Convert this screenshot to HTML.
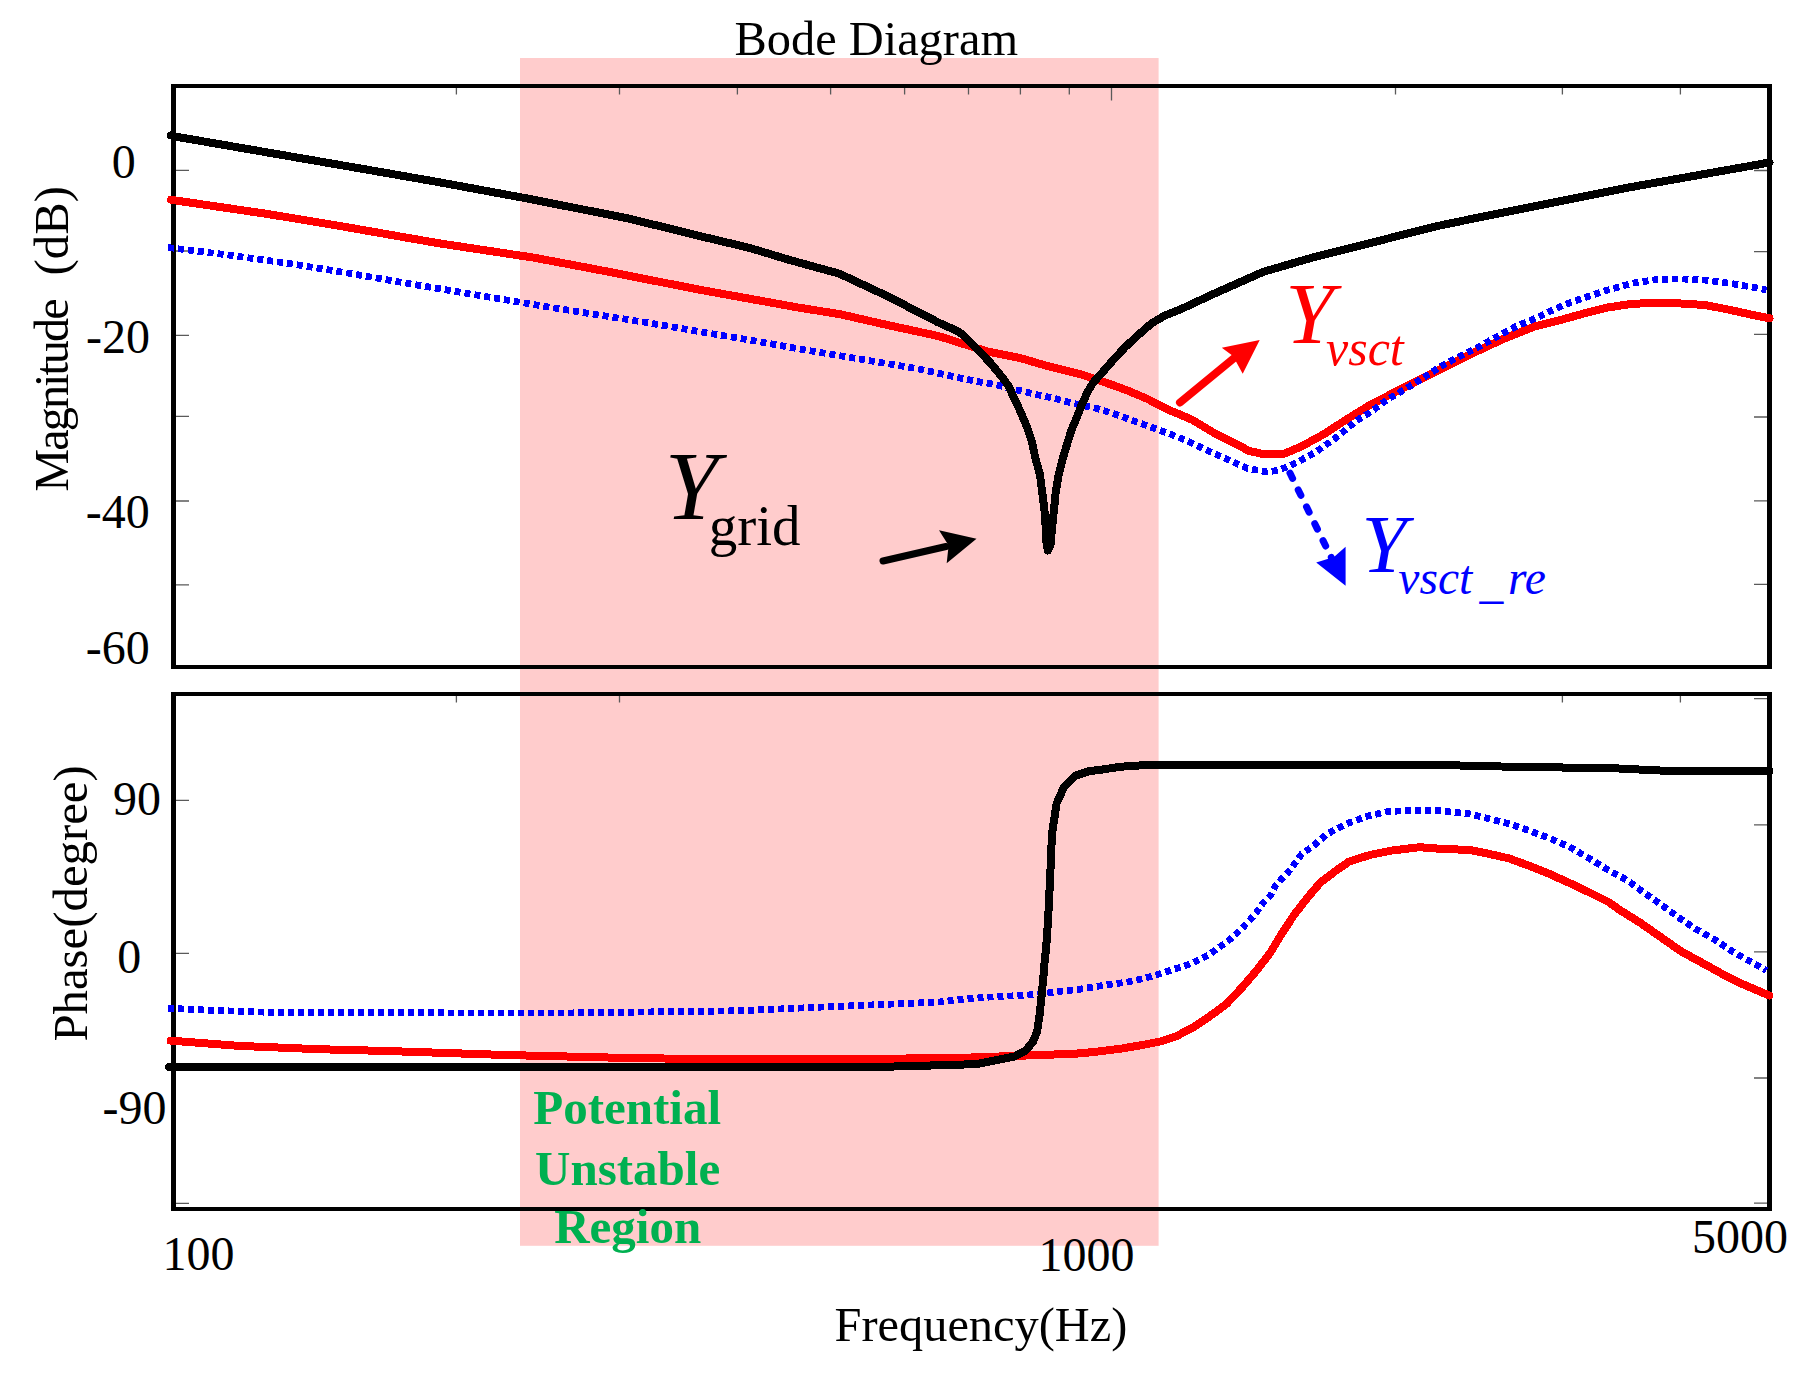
<!DOCTYPE html>
<html><head><meta charset="utf-8"><title>Bode Diagram</title>
<style>
html,body{margin:0;padding:0;background:#fff;width:1817px;height:1378px;overflow:hidden}
svg{display:block}
text{font-family:'Liberation Serif','Times New Roman',serif}
</style></head>
<body>
<svg width="1817" height="1378" viewBox="0 0 1817 1378">
<rect x="0" y="0" width="1817" height="1378" fill="#fff"/>
<rect x="520" y="58" width="638.6" height="1187.8" fill="#ffcccc"/>
<g fill="#000" shape-rendering="crispEdges">
<rect x="171" y="84" width="1601" height="4"/>
<rect x="171" y="665" width="1601" height="4"/>
<rect x="171" y="84" width="5" height="585"/>
<rect x="1767" y="84" width="5" height="585"/>
<rect x="171" y="692" width="1601" height="4"/>
<rect x="171" y="1206.5" width="1601" height="4"/>
<rect x="171" y="692" width="5" height="518.5"/>
<rect x="1767" y="692" width="5" height="518.5"/>
</g>
<path d="M456.4 88V94.5 M619.5 88V94.5 M737.4 88V94.5 M830.6 88V94.5 M904.6 88V94.5 M968.5 88V94.5 M1020.4 88V94.5 M1069.3 88V94.5 M1395.5 88V94.5 M1562.4 88V94.5 M1680.4 88V94.5 M1111.5 88V100.5 M456.4 696V702.5 M619.5 696V702.5 M1562.4 696V702.5 M1680.4 696V702.5 M176 170.4H189 M176 251H189 M176 335.3H189 M176 416.4H189 M176 501H189 M176 584.8H189 M1754 170.5H1767 M1754 251.7H1767 M1754 334.3H1767 M1754 417H1767 M1754 500.9H1767 M1754 584.3H1767 M176 800.3H189 M176 953.3H189 M176 1203.3H189 M1754 698.7H1767 M1754 824.8H1767 M1754 951.8H1767 M1754 1078H1767 M1754 1203.2H1767" stroke="#5a5a5a" stroke-width="1.3" fill="none"/>
<g fill="none" stroke-linejoin="round" shape-rendering="crispEdges">
<polyline points="171,199.8 269,214.2 340,226 439,243.3 533,257.5 600,270.1 699,289.6 798,307.5 839.5,314.1 889.1,325.4 938.6,336.1 986.1,351.1 1021,358.3 1047.1,365.9 1080,374 1112.3,384.9 1129.7,391.4 1147.1,398.8 1170,410.4 1192,419.7 1214,432.9 1236,443.9 1249.3,451.1 1261.4,453.6 1284.5,453.6 1302.1,446.1 1324.1,434 1346.1,419.7 1370,405 1403,388 1436,371.5 1469.1,354.9 1502.1,339.5 1535.1,326.3 1560,320.1 1584.2,313.4 1608.4,307.4 1632.6,303.7 1656.9,303.1 1681.1,303.5 1705.3,305 1729.5,309.8 1753.7,315.2 1769.5,318.3" stroke="#ff0000" stroke-width="8" stroke-linecap="round"/>
<polyline points="168,247.5 228,255 286,263 344,272.4 420,285.5 550,307.3 646.3,322.5 720,335.1 759.6,341.7 799.2,349 838.9,355.6 878.5,362.2 918.1,368.8 961.7,378.4 981.8,382.3 994.8,384.4 1014,389.2 1034,394 1055.8,398.8 1075.8,404 1096.6,408.4 1117.5,415 1170,434 1186.5,440.6 1206.3,450 1225,458.2 1247,468.2 1266.9,472 1277.9,470.4 1286.7,467 1297.7,462.1 1316.4,451.6 1335.1,438.4 1357.1,420.3 1370,412.4 1386.5,400.1 1405.2,389.1 1422.8,378.1 1441.5,366 1460.3,356 1480.1,346.1 1496.6,336.8 1516.4,326.3 1537.3,317.5 1563.6,305 1584.2,297.7 1608.4,289.8 1632.6,283.2 1656.9,279.5 1681.1,278.9 1705.3,280.1 1729.5,283.2 1753.7,287.4 1766.5,290" stroke="#0000ff" stroke-width="6.8" stroke-dasharray="6 4" stroke-linejoin="miter"/>
<polyline points="171,135.5 176.6,136.8 269,152.7 368,169.8 439,182.2 530,199 629,218.6 700,236.1 749.5,247.9 790,260.1 839.5,273.7 889.1,297 938.6,322.6 957.3,331 963.5,335.2 977.4,349.2 990.5,363.1 1003.5,378.8 1008.8,386.6 1014,397.9 1021,412.7 1027.1,427.5 1032.3,443.2 1035.2,457.4 1040,474.8 1042.2,492.2 1044.4,509.6 1045.7,527 1046.6,544.5 1048,550.5 1050.5,544.5 1052.2,527 1054,509.6 1055.7,492.2 1058.7,474.8 1063.1,457.4 1068.3,440 1071.5,430 1075.7,420 1081.8,404.5 1087.9,391.4 1093.1,382.7 1100.9,374 1112.3,361 1125.3,347 1138.4,334.8 1151.4,323.5 1164.5,315.7 1180,309.6 1214,293.7 1263.6,271.7 1313.1,257.4 1370,243.1 1434.7,226.6 1480,217.2 1628.6,187.5 1769.5,162.5" stroke="#000" stroke-width="8" stroke-linecap="round"/>
<polyline points="170.6,1040.6 239,1045.9 318.5,1049.2 390,1051.1 509,1055.1 628,1058 700,1059 880,1058.8 960,1057.9 996.3,1056.6 1059.8,1054.3 1080,1053.4 1100,1051.3 1122,1048.5 1144,1044.7 1160.5,1041.4 1177,1035.9 1193.6,1027 1210.1,1016 1226.6,1003.9 1243.1,986.3 1256.3,970.9 1270.6,952.2 1281.9,933.4 1294,915 1307.3,897.9 1320.5,882.5 1334.8,871.5 1349.2,861.5 1370.1,854.9 1392.1,850.5 1419.6,847.2 1441.6,848.9 1450,849.2 1469.8,850 1489.6,854 1509.4,858.5 1529.3,865.9 1549.1,873.8 1568.9,882.7 1588.7,892.1 1608.5,902 1620,910.1 1640.3,922.8 1660.6,937 1681,951.3 1701.3,962.4 1721.6,973.6 1741.9,983.8 1769.3,995.5" stroke="#ff0000" stroke-width="8" stroke-linecap="round"/>
<polyline points="168,1008.2 193,1009.5 226,1010.8 265.7,1012.2 318.5,1012.8 565,1013 738,1010.8 826,1006.9 940,1002 960,999.4 987.2,997.2 1014.4,995.8 1037.1,994.4 1059.8,991.3 1077.9,989.5 1107.7,984.7 1128.6,981.9 1149.5,977 1170.4,970.4 1189.2,964.3 1198.8,959.9 1208.9,955 1218.8,947.4 1226.3,942.5 1235.1,934.9 1242.3,928 1249.6,920.4 1256,912.9 1262.9,903 1270.5,895.4 1275.4,885.8 1289.7,870.4 1301.8,853.8 1311.7,847.2 1327.1,834 1347,823.6 1366.8,816.4 1387.7,811.5 1414.1,810.4 1440.5,810.9 1450,811.9 1469.8,813.9 1489.6,818.8 1509.4,823.8 1529.3,830.7 1549.1,838.1 1568.9,846.6 1588.7,858 1608.5,870.3 1627.1,880.2 1644.4,892.9 1661.6,905 1678.9,917.7 1697.2,929.9 1715.5,940.1 1733.8,952.3 1752.1,962.4 1766.3,970.6" stroke="#0000ff" stroke-width="6.8" stroke-dasharray="6 4" stroke-linejoin="miter"/>
<polyline points="169,1067 880,1066.9 960,1064.7 978.1,1063.8 996.3,1060.2 1014.4,1056.6 1025.3,1050.7 1032.6,1042.5 1037.1,1031.6 1039.8,1013.5 1041.6,995.4 1043.4,977.2 1044.8,959.1 1046,950 1048.2,917.7 1050.4,872 1052,833.8 1056.6,803.4 1064.2,786.6 1074.9,775.9 1088.6,771.3 1105.4,769.1 1120,766.8 1151.4,764.7 1180,764.7 1460,765.5 1501.2,766.5 1616.8,768.4 1669.7,771 1769.5,771" stroke="#000" stroke-width="8" stroke-linecap="round"/>
</g>
<!-- annotation arrows -->
<line x1="883" y1="561" x2="946" y2="546.5" stroke="#000" stroke-width="7" stroke-linecap="round"/>
<polygon points="976.5,538.8 939,530.2 948.6,545.6 946.7,563.3" fill="#000"/>
<line x1="1180" y1="402.5" x2="1236" y2="356.5" stroke="#f00" stroke-width="8" stroke-linecap="round"/>
<polygon points="1259.7,340.1 1221.8,347.7 1233,355.9 1242.7,373.7" fill="#f00"/>
<line x1="1288" y1="469" x2="1334" y2="563" stroke="#00f" stroke-width="7" stroke-linecap="round" stroke-dasharray="6 12.8" stroke-dashoffset="-4.5"/>
<polygon points="1316.2,562.6 1334,557 1345.6,546.8 1345.6,585.8" fill="#00f"/>
<!-- text -->
<g fill="#000" font-size="48.4">
<text x="734.5" y="54.9">Bode Diagram</text>
<text x="834.5" y="1341.1">Frequency(Hz)</text>
<text transform="translate(68.4 491.7) rotate(-90)" letter-spacing="-2.04">Magnitude</text>
<text transform="translate(68.4 275.4) rotate(-90)" font-size="48.7">(dB)</text>
<text transform="translate(86.7 1041.6) rotate(-90)" font-size="48.8">Phase(degree)</text>
</g>
<g fill="#000" font-size="48">
<text x="111.7" y="177.8">0</text>
<text x="85.9" y="353.3">-20</text>
<text x="85.8" y="528.1">-40</text>
<text x="85.8" y="663.7">-60</text>
<text x="112.9" y="815.4">90</text>
<text x="117.2" y="972.6">0</text>
<text x="102.5" y="1124.2">-90</text>
<text x="162.6" y="1269.8">100</text>
<text x="1038.5" y="1270.8">1000</text>
<text x="1691.9" y="1252.8">5000</text>
</g>
<g fill="#00b050" font-size="49" font-weight="bold">
<text x="533.3" y="1123.8">Potential</text>
<text x="535.1" y="1184.5">Unstable</text>
<text x="554.2" y="1242.6">Region</text>
</g>
<text x="664.7" y="518.6" font-size="96.6" font-style="italic" fill="#000">Y</text>
<text x="708.8" y="545.2" font-size="57" fill="#000">grid</text>
<text x="1285.2" y="343" font-size="87.6" font-style="italic" fill="#f00">Y</text>
<text x="1326" y="364.7" font-size="50" font-style="italic" fill="#f00">vsct</text>
<text x="1361.4" y="572.2" font-size="81.6" font-style="italic" fill="#00f">Y</text>
<text x="1398.3" y="593.6" font-size="47.6" font-style="italic" fill="#00f">vsct</text>
<text x="1479.6" y="597.5" font-size="47.6" font-style="italic" fill="#00f">_</text>
<text x="1508" y="593.6" font-size="47.6" font-style="italic" fill="#00f">re</text>
</svg>
</body></html>
